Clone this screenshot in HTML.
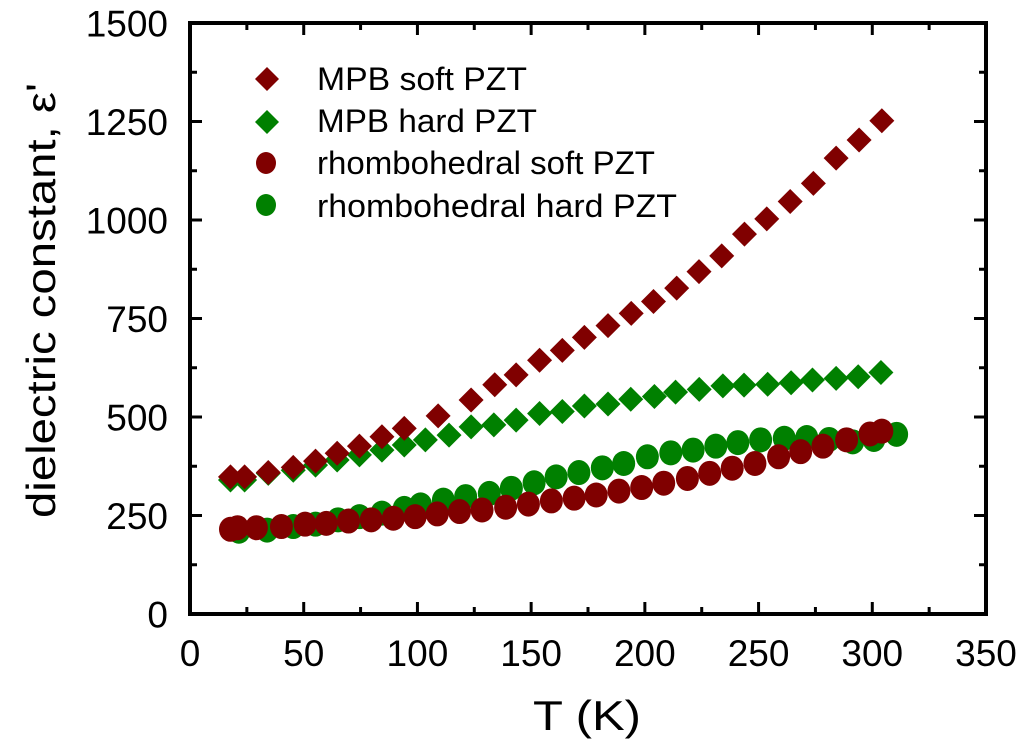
<!DOCTYPE html>
<html><head><meta charset="utf-8"><style>
html,body{margin:0;padding:0;background:#fff;}
svg text{font-family:"Liberation Sans",Arial,sans-serif;fill:#000;}
</style></head><body>
<svg id="chart" width="1024" height="745" viewBox="0 0 1024 745" xmlns="http://www.w3.org/2000/svg">
<g id="marks"></g>
<g id="axes"></g>
<text x="533" y="730" font-size="42" textLength="108" lengthAdjust="spacingAndGlyphs">T (K)</text>
<text transform="translate(55,518) rotate(-90)" font-size="41" textLength="435" lengthAdjust="spacingAndGlyphs">dielectric constant, ε'</text>
<g>
<polygon points="267,67 279,79 267,91 255,79" fill="#800000"/>
<text x="317" y="90" font-size="32" textLength="210" lengthAdjust="spacingAndGlyphs">MPB soft PZT</text>
<polygon points="267,110 279,122 267,134 255,122" fill="#008000"/>
<text x="317" y="132" font-size="32" textLength="220" lengthAdjust="spacingAndGlyphs">MPB hard PZT</text>
<ellipse cx="266" cy="163" rx="10" ry="11" fill="#800000"/>
<text x="317" y="174" font-size="32" textLength="338" lengthAdjust="spacingAndGlyphs">rhombohedral soft PZT</text>
<ellipse cx="266" cy="205" rx="10" ry="11" fill="#008000"/>
<text x="317" y="217" font-size="32" textLength="360" lengthAdjust="spacingAndGlyphs">rhombohedral hard PZT</text>
</g>
</svg>
<script>
const xTicks=[0,50,100,150,200,250,300,350];
const yTicks=[0,250,500,750,1000,1250,1500];
const mpbSoftT=[17.8,24,34.4,45.4,55.2,64.7,74.5,84.4,94.2,109.1,123.6,134,143.4,153.7,163.7,173.4,183.8,194,203.8,214,223.8,233.8,243.8,253.6,263.9,274.1,284.1,294.2,304.2];
const mpbSoftV=[348,348,359,372,388,408,426,450,471,503,543,582,607,644,669,702,732,763,793,827,869,909,964,1003,1047,1093,1157,1203,1252];
const mpbHardT=[17.8,24,34.4,45.4,55.2,64.7,74.5,84.4,94.2,103.5,113.9,123.6,133.6,143.4,153.7,163.7,173.4,183.8,193.8,204.2,213.5,223.9,234.3,243.6,254,264.3,273.7,284.1,293.8,303.8];
const mpbHardV=[340,340,357,365,378,391,404,416,429,442,454,475,480,492,509,514,528,533,545,552,563,570,579,581,583,587,594,598,602,613];
const rhSoftT=[17.8,20.9,29.2,40.2,50.6,59.9,69.7,79.7,89.4,99,108.7,118.5,128.4,138.8,148.8,158.9,168.9,178.6,188.6,198.6,208.3,218.7,228.5,238.4,248.4,258.8,268.5,278.3,288.7,299,304.2];
const rhSoftV=[215,219,219,222,228,230,236,239,243,247,254,260,264,271,279,287,294,302,312,321,332,344,357,370,382,399,412,426,442,457,464];
const rhHardT=[21.5,33.9,45.4,55.2,65.1,74.5,84.4,94.2,101.4,111.4,121.2,131.6,141.3,151.3,161,171,181.3,190.7,201.1,211.4,221.2,231.2,240.9,250.9,261.3,271.2,281,291.4,300.7,310.7];
const rhHardV=[210,213,222,228,239,247,256,268,277,289,298,306,319,333,348,359,371,382,399,409,416,426,435,442,446,448,443,437,443,456];

const X0=190,X1=986,Y0=614,Y1=23;
const xs=t=>X0+(t-0)/350*(X1-X0);
const ys=v=>Y0-(v-0)/1500*(Y0-Y1);
const NS='http://www.w3.org/2000/svg';
const marks=document.getElementById('marks');
const axes=document.getElementById('axes');
function mk(tag,parent){const e=document.createElementNS(NS,tag);parent.appendChild(e);return e;}

function circles(T,V,color,name){
  const g=mk('g',marks);
  
  
  T.forEach((t,i)=>{
    const c=mk('ellipse',g);
    
    
    c.setAttribute('cx',xs(t));c.setAttribute('cy',ys(V[i]));
    c.setAttribute('rx',11.5);c.setAttribute('ry',12.5);c.setAttribute('fill',color);
  });
}
function diamonds(T,V,color,name){
  const g=mk('g',marks);
  
  
  T.forEach((t,i)=>{
    const x=xs(t),y=ys(V[i]),r=12.5;
    const p=mk('polygon',g);
    
    
    p.setAttribute('points',`${x},${y-r} ${x+r},${y} ${x},${y+r} ${x-r},${y}`);
    p.setAttribute('fill',color);
  });
}
circles(rhHardT,rhHardV,'#008000','series-rhombohedral-hard');
circles(rhSoftT,rhSoftV,'#800000','series-rhombohedral-soft');
diamonds(mpbHardT,mpbHardV,'#008000','series-mpb-hard');
diamonds(mpbSoftT,mpbSoftV,'#800000','series-mpb-soft');

const frame=mk('rect',axes);


frame.setAttribute('x',X0);frame.setAttribute('y',Y1);
frame.setAttribute('width',X1-X0);frame.setAttribute('height',Y0-Y1);
frame.setAttribute('fill','none');frame.setAttribute('stroke','#000');frame.setAttribute('stroke-width','4');

function tick(x1,y1,x2,y2){const l=mk('line',axes);
  
  
  l.setAttribute('x1',x1);l.setAttribute('y1',y1);l.setAttribute('x2',x2);l.setAttribute('y2',y2);
  l.setAttribute('stroke','#000');l.setAttribute('stroke-width','3');}
for(let t=0;t<=350;t+=25){const x=xs(t),L=(t%50===0)?12:7;
  tick(x,Y0,x,Y0-L);tick(x,Y1,x,Y1+L);}
for(let v=0;v<=1500;v+=125){const y=ys(v),L=(v%250===0)?12:7;
  tick(X0,y,X0+L,y);tick(X1,y,X1-L,y);}
xTicks.forEach(t=>{const tx=mk('text',axes);
  
  
  tx.setAttribute('x',xs(t));tx.setAttribute('y',Y0+52);tx.setAttribute('font-size','37');
  tx.setAttribute('text-anchor','middle');tx.textContent=t;});
yTicks.forEach(v=>{const tx=mk('text',axes);
  
  
  tx.setAttribute('x',X0-22);tx.setAttribute('y',ys(v)+13.5);tx.setAttribute('font-size','37');
  tx.setAttribute('text-anchor','end');tx.textContent=v;});
</script>
</body></html>
